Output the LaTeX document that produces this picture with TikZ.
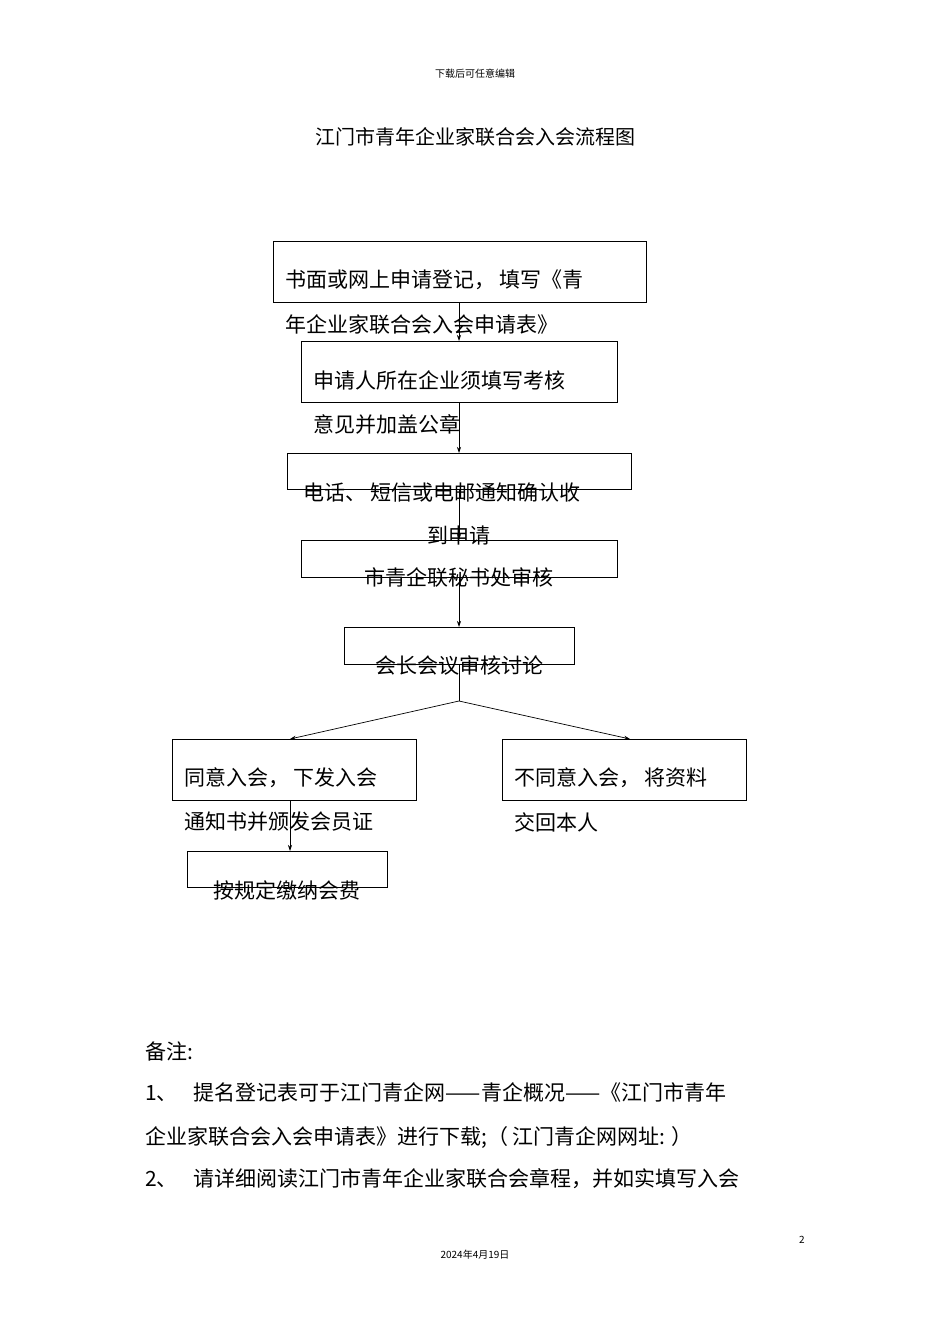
\documentclass[tikz,border=0pt]{standalone}
\usepackage{fontspec}
\usetikzlibrary{arrows.meta}
\setmainfont{Noto Sans CJK SC}
\newfontfamily\cjk{Noto Sans CJK SC}
\begin{document}
\begin{tikzpicture}[x=1pt,y=-1pt,
  bx/.style={draw,line width=0.8pt},
  tx/.style={font=\fontsize{21}{21}\selectfont,inner sep=0pt},
  arr/.style={-{Stealth[length=6pt,width=4pt]},line width=0.7pt}]
\useasboundingbox (0,0) rectangle (950,1344);
\node[font=\fontsize{10}{10}\selectfont] (hdr) at (475,74) {下载后可任意编辑};
\node[font=\fontsize{20}{20}\selectfont] (title) at (475,137) {江门市青年企业家联合会入会流程图};
\draw[bx] (273,241) rectangle (646,302); \coordinate (b1) at (459,302);
\draw[bx] (301,341) rectangle (617,402); \coordinate (b2t) at (459,341); \coordinate (b2) at (459,402);
\draw[bx] (287,453) rectangle (631,489); \coordinate (b3t) at (459,453); \coordinate (b3) at (459,489);
\draw[bx] (301,540) rectangle (617,577); \coordinate (b4t) at (459,540); \coordinate (b4) at (459,577);
\draw[bx] (344,627) rectangle (574,664); \coordinate (b5t) at (459,627); \coordinate (b5) at (459,664);
\draw[bx] (172,739) rectangle (416,800); \coordinate (b6t) at (290,739); \coordinate (b6) at (290,800);
\draw[bx] (502,739) rectangle (746,800); \coordinate (b7t) at (630,739);
\draw[bx] (187,851) rectangle (387,887); \coordinate (b8t) at (290,851);
\coordinate (split) at (459,701);
\draw[arr] (b1) -- (b2t);
\draw[arr] (b2) -- (b3t);
\draw[arr] (b3) -- (b4t);
\draw[arr] (b4) -- (b5t);
\draw[line width=0.7pt] (b5) -- (split);
\draw[arr] (split) -- (b6t);
\draw[arr] (split) -- (b7t);
\draw[arr] (b6) -- (b8t);
\node[tx,anchor=west] (t1a) at (285,280) {书面或网上申请登记， 填写《青};
\node[tx,anchor=west] (t1b) at (285,325) {年企业家联合会入会申请表》};
\node[tx,anchor=west] (t2a) at (313,380) {申请人所在企业须填写考核};
\node[tx,anchor=west] (t2b) at (313,424) {意见并加盖公章};
\node[tx,anchor=west] (t3a) at (303,493) {电话、 短信或电邮通知确认收};
\node[tx] (t3b) at (459,536) {到申请};
\node[tx] (t4) at (459,578) {市青企联秘书处审核};
\node[tx] (t5) at (459,666) {会长会议审核讨论};
\node[tx,anchor=west] (t6a) at (184,778) {同意入会， 下发入会};
\node[tx,anchor=west] (t6b) at (184,822) {通知书并颁发会员证};
\node[tx,anchor=west] (t7a) at (514,778) {不同意入会， 将资料};
\node[tx,anchor=west] (t7b) at (514,822) {交回本人};
\node[tx] (t8) at (287,890) {按规定缴纳会费};
\node[tx,anchor=west] (n0) at (145,1051) {备注:};
\node[tx,anchor=west] (n1) at (145,1092) {1、\hspace{16pt}提名登记表可于江门青企网——青企概况——《江门市青年};
\node[tx,anchor=west] (n2) at (145,1137) {企业家联合会入会申请表》进行下载;（ 江门青企网网址: ）};
\node[tx,anchor=west] (n3) at (145,1179) {2、\hspace{16pt}请详细阅读江门市青年企业家联合会章程，并如实填写入会};
\node[font=\fontsize{10}{10}\selectfont] (pg) at (802,1240) {2};
\node[font=\fontsize{10}{10}\selectfont] (date) at (475,1255) {2024年4月19日};
\end{tikzpicture}
\end{document}
